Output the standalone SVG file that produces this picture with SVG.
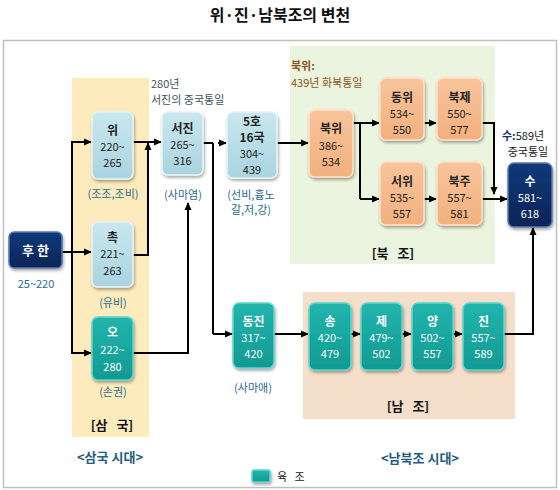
<svg xmlns="http://www.w3.org/2000/svg" width="560" height="490" viewBox="0 0 560 490">
<style>
text{font-family:"Noto Sans CJK KR","Noto Sans",sans-serif;text-anchor:middle}
.t{font-size:11px;fill:#222}
.tb{font-size:12px;font-weight:bold;fill:#222}
.w{font-size:11px;fill:#fff}
.wb{font-size:12px;font-weight:bold;fill:#fff}
.lbl{font-size:11px;fill:#2a6a8e}
.note{font-size:11px;fill:#3d5560;text-anchor:start}
.brn{font-size:11px;fill:#8a5518;text-anchor:start}
.sec{font-size:13px;font-weight:bold;fill:#111;white-space:pre}
.era{font-size:13px;font-weight:bold;fill:#1f5c86}
.blue{fill:url(#gBlue);stroke:#e6f5f8;stroke-width:1.5}
.teal{fill:url(#gTeal);stroke:#5fd6d0;stroke-width:1.5}
.peach{fill:url(#gPeach);stroke:#fde0c8;stroke-width:1.5}
.navy{fill:url(#gNavy);stroke:#5a78b0;stroke-width:1.5}
.c{fill:none;stroke:#000;stroke-width:2;marker-end:url(#ah)}
.cn{fill:none;stroke:#000;stroke-width:2}
</style>
<defs>
<marker id="ah" markerWidth="8" markerHeight="8" refX="7" refY="4" orient="auto" markerUnits="userSpaceOnUse"><path d="M0,0.5 L8,4 L0,7.5 z" fill="#000"/></marker>
<linearGradient id="gBlue" x1="0" y1="0" x2="0" y2="1"><stop offset="0" stop-color="#c9e7ee"/><stop offset="1" stop-color="#a9d4e0"/></linearGradient>
<linearGradient id="gTeal" x1="0" y1="0" x2="0" y2="1"><stop offset="0" stop-color="#22b5ad"/><stop offset="1" stop-color="#109a92"/></linearGradient>
<linearGradient id="gPeach" x1="0" y1="0" x2="0" y2="1"><stop offset="0" stop-color="#f8c49b"/><stop offset="1" stop-color="#f2b07e"/></linearGradient>
<linearGradient id="gNavy" x1="0" y1="0" x2="0" y2="1"><stop offset="0" stop-color="#123a7a"/><stop offset="1" stop-color="#0a2456"/></linearGradient>
<filter id="sh" x="-20%" y="-20%" width="150%" height="150%"><feDropShadow dx="1" dy="2" stdDeviation="1.5" flood-color="#000" flood-opacity="0.35"/></filter>
</defs>

<text x="280" y="21" style="font-size:16px;font-weight:bold;fill:#111">위·진·남북조의 변천</text>
<rect x="3.5" y="40.5" width="553" height="447" fill="#fff" stroke="#c0c0c0" stroke-width="1.5"/>

<!-- bands -->
<rect x="72" y="78" width="77" height="359" fill="#fdebbd"/>
<rect x="290" y="46" width="205" height="218" fill="#ebf4de"/>
<rect x="303" y="292" width="212" height="127" fill="#f6dfca"/>

<text class="note" x="151" y="88">280년</text>
<text class="note" x="151" y="104">서진의 중국통일</text>
<text class="brn" x="291" y="70" style="font-weight:bold">북위:</text>
<text class="brn" x="291" y="87">439년 화북통일</text>
<text x="502" y="140" style="font-size:11px;text-anchor:start;fill:#222"><tspan style="font-weight:bold;fill:#12306a">수:</tspan>589년</text>
<text x="528" y="156" style="font-size:11px;fill:#222">중국통일</text>

<g id="connectors">
<path class="cn" d="M62,252 H72"/>
<path class="c" d="M72,252 H91"/>
<path class="c" d="M72,252 V142 H91"/>
<path class="c" d="M72,252 V353 H91"/>
<path class="c" d="M133,142 H161"/>
<path class="c" d="M133,255 H148 V143"/>
<path class="c" d="M133,353 H188 V203"/>
<path class="cn" d="M203,143 H213"/>
<path class="c" d="M218,143 H226" />
<path class="cn" d="M213,143 V334"/>
<path class="c" d="M213,334 H232"/>
<path class="c" d="M277,143 H308"/>
<path class="cn" d="M353,123 H360 V199"/>
<path class="c" d="M360,123 H379"/>
<path class="c" d="M360,199 H379"/>
<path class="c" d="M424,123 H436"/>
<path class="c" d="M424,199 H436"/>
<path class="c" d="M482,123 H494 V194"/>
<path class="c" d="M482,199 H507"/>
<path class="c" d="M274,334 H308"/>
<path class="c" d="M351,334 H360"/>
<path class="c" d="M402,334 H411"/>
<path class="c" d="M453,334 H462"/>
<path class="c" d="M504,334 H533 V228"/>
</g>

<g id="n-huhan"><rect class="navy" x="9" y="232" width="53" height="36" rx="5" filter="url(#sh)"/><text class="wb" x="35.5" y="255" style="font-size:13px">후 한</text></g>
<text class="lbl" x="36" y="288">25~220</text>

<g id="n-wi"><rect class="blue" x="92" y="112" width="41" height="67" rx="6" filter="url(#sh)"/><text class="tb" x="112.5" y="135">위</text><text class="t" x="112.5" y="151">220~</text><text class="t" x="112.5" y="167">265</text></g>
<text class="lbl" x="113" y="198">(조조,조비)</text>

<g id="n-chok"><rect class="blue" x="92" y="222" width="41" height="65" rx="6" filter="url(#sh)"/><text class="tb" x="112.5" y="242">촉</text><text class="t" x="112.5" y="258">221~</text><text class="t" x="112.5" y="275">263</text></g>
<text class="lbl" x="113" y="307">(유비)</text>

<g id="n-o"><rect class="teal" x="92" y="317" width="41" height="63" rx="6" filter="url(#sh)"/><text class="wb" x="112.5" y="337">오</text><text class="w" x="112.5" y="354">222~</text><text class="w" x="112.5" y="371">280</text></g>
<text class="lbl" x="113" y="396">(손권)</text>
<text class="sec" x="112" y="430" xml:space="preserve">[삼   국]</text>
<text class="era" x="110" y="462">&lt;삼국 시대&gt;</text>

<g id="n-seojin"><rect class="blue" x="162" y="112" width="41" height="63" rx="6" filter="url(#sh)"/><text class="tb" x="182.5" y="133">서진</text><text class="t" x="182.5" y="149">265~</text><text class="t" x="182.5" y="165">316</text></g>
<text class="lbl" x="183" y="199">(사마염)</text>

<g id="n-5ho"><rect class="blue" x="227" y="112" width="50" height="66" rx="6" filter="url(#sh)"/><text class="tb" x="252" y="126">5호</text><text class="tb" x="252" y="142">16국</text><text class="t" x="252" y="158">304~</text><text class="t" x="252" y="174">439</text></g>
<text class="lbl" x="251" y="199">(선비,흉노</text>
<text class="lbl" x="251" y="214">갈,저,강)</text>

<g id="n-bukwi"><rect class="peach" x="309" y="110" width="44" height="67" rx="6" filter="url(#sh)"/><text class="tb" x="331" y="133">북위</text><text class="t" x="331" y="150">386~</text><text class="t" x="331" y="166">534</text></g>
<g id="n-dongwi"><rect class="peach" x="380" y="78" width="44" height="62" rx="6" filter="url(#sh)"/><text class="tb" x="402" y="102">동위</text><text class="t" x="402" y="118">534~</text><text class="t" x="402" y="134">550</text></g>
<g id="n-bukje"><rect class="peach" x="437" y="78" width="45" height="62" rx="6" filter="url(#sh)"/><text class="tb" x="459.5" y="102">북제</text><text class="t" x="459.5" y="118">550~</text><text class="t" x="459.5" y="134">577</text></g>
<g id="n-seowi"><rect class="peach" x="380" y="162" width="44" height="63" rx="6" filter="url(#sh)"/><text class="tb" x="402" y="186">서위</text><text class="t" x="402" y="202">535~</text><text class="t" x="402" y="218">557</text></g>
<g id="n-bukju"><rect class="peach" x="437" y="162" width="45" height="63" rx="6" filter="url(#sh)"/><text class="tb" x="459.5" y="186">북주</text><text class="t" x="459.5" y="202">557~</text><text class="t" x="459.5" y="218">581</text></g>
<text class="sec" x="393" y="258" xml:space="preserve">[북   조]</text>

<g id="n-su"><rect class="navy" x="508" y="163" width="44" height="64" rx="6" filter="url(#sh)"/><text class="wb" x="530" y="186">수</text><text class="w" x="530" y="202">581~</text><text class="w" x="530" y="218">618</text></g>

<g id="n-dongjin"><rect class="teal" x="233" y="303" width="41" height="65" rx="6" filter="url(#sh)"/><text class="wb" x="253.5" y="326">동진</text><text class="w" x="253.5" y="342">317~</text><text class="w" x="253.5" y="358">420</text></g>
<text class="lbl" x="253" y="392">(사마애)</text>

<g id="n-song"><rect class="teal" x="309" y="303" width="42" height="67" rx="6" filter="url(#sh)"/><text class="wb" x="330" y="326">송</text><text class="w" x="330" y="342">420~</text><text class="w" x="330" y="358">479</text></g>
<g id="n-je"><rect class="teal" x="361" y="303" width="41" height="67" rx="6" filter="url(#sh)"/><text class="wb" x="381.5" y="326">제</text><text class="w" x="381.5" y="342">479~</text><text class="w" x="381.5" y="358">502</text></g>
<g id="n-yang"><rect class="teal" x="412" y="303" width="41" height="67" rx="6" filter="url(#sh)"/><text class="wb" x="432.5" y="326">양</text><text class="w" x="432.5" y="342">502~</text><text class="w" x="432.5" y="358">557</text></g>
<g id="n-jin"><rect class="teal" x="463" y="303" width="41" height="67" rx="6" filter="url(#sh)"/><text class="wb" x="483.5" y="326">진</text><text class="w" x="483.5" y="342">557~</text><text class="w" x="483.5" y="358">589</text></g>
<text class="sec" x="408" y="411" xml:space="preserve">[남   조]</text>
<text class="era" x="420" y="463">&lt;남북조 시대&gt;</text>

<g id="legend"><rect class="teal" x="252" y="470" width="18" height="12" rx="2" filter="url(#sh)"/><text x="277" y="481" style="font-size:11px;fill:#222;text-anchor:start;white-space:pre" xml:space="preserve">육   조</text></g>
</svg>
